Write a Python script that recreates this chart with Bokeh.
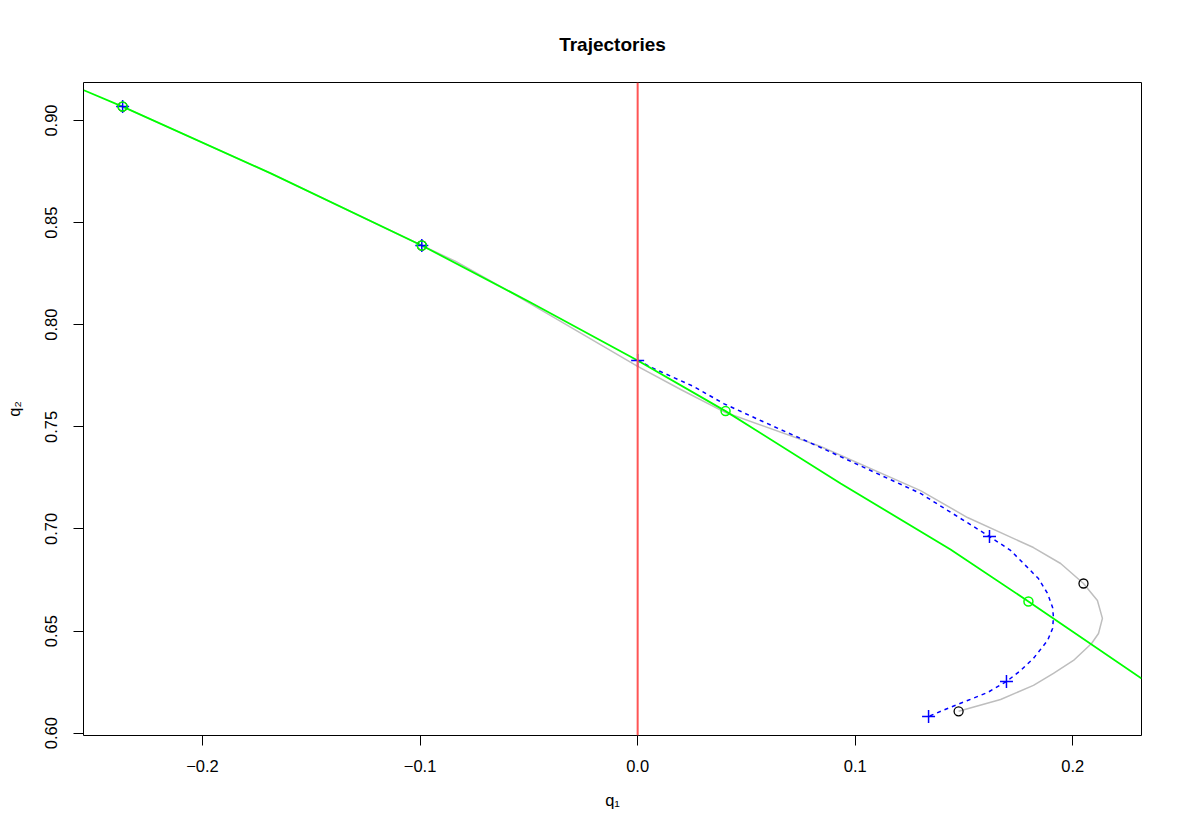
from bokeh.plotting import figure
from bokeh.models import Range1d, Span
from bokeh.embed import file_html
from bokeh.resources import INLINE

# Gray trajectory (main data, determines the plot limits)
gray_q1 = [-0.2367, -0.1686, -0.0992, -0.0836, -0.0629, -0.0354, 0.0, 0.0198, 0.0404,
           0.0841, 0.1300, 0.1516, 0.1819, 0.1944, 0.2049, 0.2113, 0.2136, 0.2118,
           0.2086, 0.2003, 0.1911, 0.1819, 0.1668, 0.1475]
gray_q2 = [0.9068, 0.8741, 0.8388, 0.8310, 0.8187, 0.8016, 0.7796, 0.7683, 0.7570,
           0.7404, 0.7188, 0.7056, 0.6909, 0.6831, 0.6733, 0.6650, 0.6562, 0.6488,
           0.6439, 0.6356, 0.6293, 0.6234, 0.6165, 0.6107]
black_pts_q1 = [-0.2367, -0.0992, 0.2049, 0.1475]
black_pts_q2 = [0.9068, 0.8388, 0.6733, 0.6107]

# Blue dashed trajectory
blue_q1 = [0.0, 0.0083, 0.0257, 0.0395, 0.0565, 0.0841, 0.1071, 0.1300, 0.1617, 0.1714,
           0.1792, 0.1842, 0.1884, 0.1907, 0.1911, 0.1907, 0.1884, 0.1819, 0.1760,
           0.1695, 0.1608, 0.1516, 0.1424, 0.1337]
blue_q2 = [0.7825, 0.7781, 0.7698, 0.7614, 0.7531, 0.7399, 0.7286, 0.7174, 0.6963, 0.6895,
           0.6811, 0.6757, 0.6684, 0.6616, 0.6567, 0.6513, 0.6454, 0.6366, 0.6307,
           0.6253, 0.6199, 0.6160, 0.6121, 0.6082]
blue_pts_q1 = [-0.2367, -0.0992, 0.0, 0.1617, 0.1695, 0.1337]
blue_pts_q2 = [0.9068, 0.8388, 0.7825, 0.6963, 0.6253, 0.6082]

# Green trajectory
green_q1 = [-0.2545, -0.2367, -0.1686, -0.0992, -0.0492, 0.0, 0.0404, 0.0933, 0.1438,
            0.1796, 0.2316]
green_q2 = [0.9148, 0.9068, 0.8741, 0.8388, 0.8109, 0.7825, 0.7577, 0.7223, 0.6899,
            0.6645, 0.6268]
green_pts_q1 = [-0.2367, -0.0992, 0.0404, 0.1796]
green_pts_q2 = [0.9068, 0.8388, 0.7577, 0.6645]

x_ticks = [-0.2, -0.1, 0.0, 0.1, 0.2]
y_ticks = [0.60, 0.65, 0.70, 0.75, 0.80, 0.85, 0.90]

FONT = "Liberation Sans"

p = figure(width=1167, height=823, output_backend="svg", toolbar_location=None,
           x_range=Range1d(-0.25468, 0.23156), y_range=Range1d(0.59887, 0.91861),
           min_border_left=83, min_border_right=26, min_border_top=82, min_border_bottom=88,
           title="Trajectories")
p.title.text_font = FONT
p.title.text_font_size = "19px"
p.title.text_font_style = "bold"
p.title.text_color = "black"
p.title.align = "center"
p.title.standoff = 55

p.xgrid.visible = False
p.ygrid.visible = False
p.outline_line_color = "black"
p.outline_line_width = 1
p.background_fill_color = "white"
p.border_fill_color = "white"

p.xaxis.ticker = x_ticks
p.yaxis.ticker = y_ticks
p.xaxis.major_label_overrides = {v: ("\u2212%.1f" % abs(v) if v < 0 else "%.1f" % v) for v in x_ticks}
p.yaxis.major_label_overrides = {v: "%.2f" % v for v in y_ticks}
for ax in (p.xaxis[0], p.yaxis[0]):
    ax.axis_line_color = None
    ax.major_tick_out = 10
    ax.major_tick_in = 0
    ax.minor_tick_out = 0
    ax.minor_tick_in = 0
    ax.major_tick_line_color = "black"
    ax.major_label_text_font = FONT
    ax.major_label_text_font_size = "16.5px"
    ax.major_label_text_color = "black"
    ax.axis_label_text_font = FONT
    ax.axis_label_text_font_size = "16.5px"
    ax.axis_label_text_font_style = "normal"
    ax.axis_label_text_color = "black"
p.yaxis.major_label_orientation = "vertical"
p.xaxis.major_label_standoff = 14
p.yaxis.major_label_standoff = 16
p.xaxis.axis_label = "q\u2081"
p.yaxis.axis_label = "q\u2082"
p.xaxis.axis_label_standoff = 16
p.yaxis.axis_label_standoff = 20

# lines
p.line(gray_q1, gray_q2, line_color="#BEBEBE", line_width=1.5)
p.line(blue_q1, blue_q2, line_color="#0000FF", line_width=1.5, line_dash="4 4")
p.line(green_q1, green_q2, line_color="#00FF00", line_width=1.8)
p.add_layout(Span(location=0.0, dimension="height", line_color="#FF5555", line_width=2))

# markers
p.scatter(black_pts_q1, black_pts_q2, marker="circle", size=9, fill_color=None,
          line_color="black", line_width=1.3)
p.scatter(blue_pts_q1, blue_pts_q2, marker="cross", size=13, line_color="#0000FF",
          line_width=1.5)
p.scatter(green_pts_q1, green_pts_q2, marker="circle", size=9, fill_color=None,
          line_color="#00FF00", line_width=1.5)

open("out.html", "w").write(file_html(p, INLINE))
